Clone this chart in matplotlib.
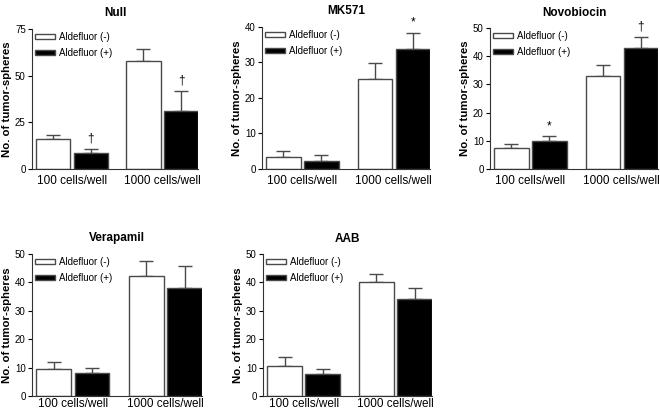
import numpy as np
import matplotlib
matplotlib.use('Agg')
import matplotlib.pyplot as plt

plt.rcParams['font.family'] = ['Liberation Sans', 'DejaVu Sans']

groups = ['100 cells/well', '1000 cells/well']
series = ['Aldefluor (-)', 'Aldefluor (+)']

titles = ['Null', 'MK571', 'Novobiocin', 'Verapamil', 'AAB']
ymax = [75, 40, 50, 50, 50]
ystep = [25, 10, 10, 10, 10]

# means [neg100, pos100, neg1000, pos1000]
means = [
    [16.1, 8.6, 57.7, 31.3],
    [3.4, 2.3, 25.4, 33.7],
    [7.4, 10.0, 33.0, 42.9],
    [9.4, 8.0, 42.2, 38.2],
    [10.7, 7.6, 40.2, 34.1],
]
# upper error bar ends
err_top = [
    [18.2, 10.7, 64.3, 42.0],
    [5.1, 4.0, 29.8, 38.3],
    [8.7, 11.6, 36.8, 46.8],
    [11.9, 9.8, 47.4, 45.9],
    [13.6, 9.4, 42.9, 37.9],
]
# significance marks per bar
marks = [
    ['', '\u2020', '', '\u2020'],
    ['', '', '', '*'],
    ['', '*', '', '\u2020'],
    ['', '', '', ''],
    ['', '', '', ''],
]

# axes rectangles in pixels: left, right, top, bottom
rects = [
    (32, 198, 29, 169),
    (262, 430, 27, 169),
    (490, 658, 28, 169),
    (32, 202, 254, 396),
    (263, 432, 254, 396),
]

W, H = 660, 412
fig = plt.figure(figsize=(W / 100, H / 100), dpi=100)

xpos = np.array([0, 1.1, 2.65, 3.75])
colors = ['white', 'black']
edge = '#4a4a4a'

for i, t in enumerate(titles):
    l, r, tp, b = rects[i]
    ax = fig.add_axes([l / W, 1 - b / H, (r - l) / W, (b - tp) / H])
    m = np.array(means[i])
    e = np.array(err_top[i]) - m
    for j in range(4):
        ax.bar(xpos[j], m[j], width=1.0, color=colors[j % 2], edgecolor=edge,
               linewidth=1.0, zorder=2, label=series[j % 2] if j < 2 else None)
        ax.errorbar(xpos[j], m[j], yerr=[[0], [e[j]]], fmt='none',
                    ecolor=edge, elinewidth=1.0, capsize=5, capthick=1.0, zorder=1)
        if marks[i][j]:
            ax.text(xpos[j], err_top[i][j] + ymax[i] * 0.03, marks[i][j],
                    ha='center', va='bottom', fontsize=8.5, clip_on=False)
    ax.set_xlim(-0.62, 4.25)
    ax.set_ylim(0, ymax[i])
    ax.set_yticks(np.arange(0, ymax[i] + 1, ystep[i]))
    ax.set_xticks([0.55, 3.2])
    ax.set_xticklabels(groups, fontsize=8.5)
    # bottom row sits close to the figure edge
    ax.tick_params(axis='x', length=0, pad=4 if i < 3 else 1.5)
    ax.tick_params(axis='y', labelsize=7, length=3, width=0.8, pad=1.5)
    ax.spines['top'].set_visible(False)
    ax.spines['right'].set_visible(False)
    ax.spines['left'].set_color('#333333')
    ax.spines['bottom'].set_color('#333333')
    ax.set_ylabel('No. of tumor-spheres', fontsize=8.2, fontweight='bold', labelpad=2)
    ax.set_title(t, fontsize=8.5, fontweight='bold', pad=9)
    ax.legend(loc='upper left', frameon=False, fontsize=7, handlelength=2.1,
              handleheight=0.5, borderaxespad=0.0, borderpad=0.3,
              labelspacing=0.6, handletextpad=0.35)

plt.savefig('out.png', dpi=100)
